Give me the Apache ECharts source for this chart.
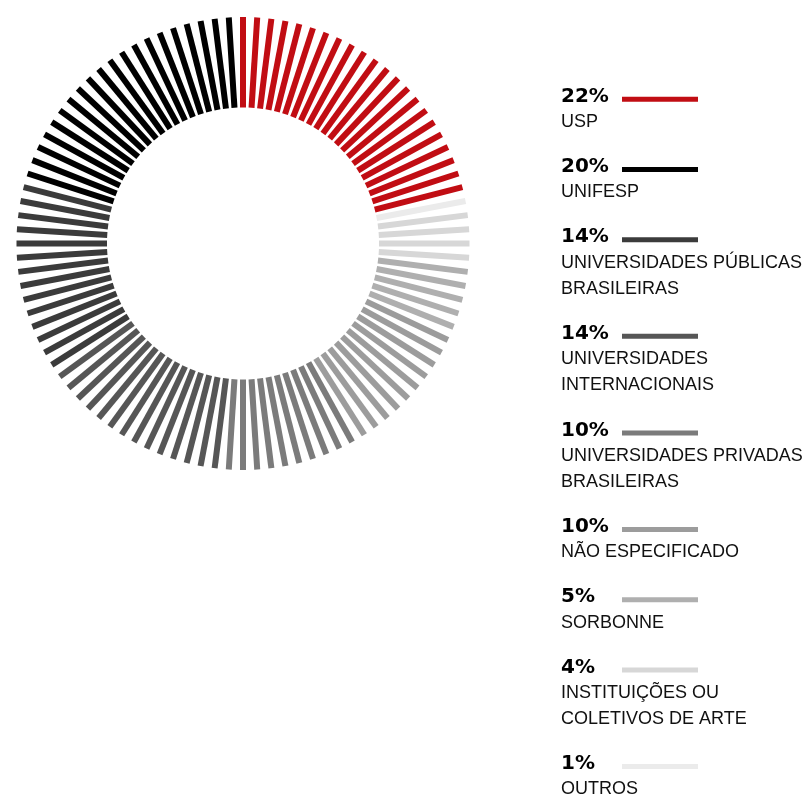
<!DOCTYPE html>
<html>
<head>
<meta charset="utf-8">
<script src="https://cdn.jsdelivr.net/npm/echarts@6/dist/echarts.min.js"></script>
<style>
html,body{margin:0;padding:0;background:#fff;}
#chart{width:810px;height:796px;}
</style>
</head>
<body>
<div id="chart"></div>
<script>
// Legend order (top to bottom)
var names = ['USP', 'UNIFESP', 'UNIVERSIDADES PÚBLICAS\nBRASILEIRAS', 'UNIVERSIDADES\nINTERNACIONAIS',
  'UNIVERSIDADES PRIVADAS\nBRASILEIRAS', 'NÃO ESPECIFICADO', 'SORBONNE', 'INSTITUIÇÕES OU\nCOLETIVOS DE ARTE', 'OUTROS'];
var percents = [22, 20, 14, 14, 10, 10, 5, 4, 1];
var colors = ['#c10d13', '#000000', '#3b3b3b', '#565656', '#7b7b7b', '#9c9c9c', '#afafaf', '#d7d7d7', '#ebebeb'];
// Clockwise order of categories around the ring, starting at 12 o'clock
var ringOrder = [0, 8, 7, 6, 5, 4, 3, 2, 1];

// one tick per percent point
var ticks = [];
var t = 0;
ringOrder.forEach(function (c) {
  for (var i = 0; i < percents[c]; i++) { ticks.push([t, c]); t++; }
});

var INNER = 136 / 226.5;

var graphics = [];
var y = 89.3;
names.forEach(function (n, k) {
  var lines = n.split('\n').length;
  graphics.push({
    type: 'text', left: 561, top: y - 2.5,
    style: { text: percents[k] + '%', font: 'bold 20px "DejaVu Sans"', fill: '#000' }
  });
  graphics.push({
    type: 'rect', shape: { x: 622, y: y + 7.5, width: 76, height: 5 },
    style: { fill: colors[k] }
  });
  graphics.push({
    type: 'text', left: 561, top: y + 20,
    style: { text: n, font: '18px "Liberation Sans"', fill: '#111', lineHeight: 26 }
  });
  y += 70.2 + 26.4 * (lines - 1);
});

var chart = echarts.init(document.getElementById('chart'), null, { renderer: 'canvas' });
chart.setOption({
  animation: false,
  backgroundColor: '#fff',
  polar: { center: [243, 243.5], radius: 226.5 },
  angleAxis: { type: 'value', min: 0, max: 100, startAngle: 90, clockwise: true, show: false },
  radiusAxis: { type: 'value', min: 0, max: 1, show: false },
  series: [{
    type: 'custom',
    coordinateSystem: 'polar',
    data: ticks,
    renderItem: function (params, api) {
      var idx = api.value(0);
      var c = api.value(1);
      var p1 = api.coord([INNER, idx]);
      var p2 = api.coord([1, idx]);
      return {
        type: 'line',
        shape: { x1: p1[0], y1: p1[1], x2: p2[0], y2: p2[1] },
        style: { stroke: colors[c], lineWidth: 6, lineCap: 'butt' }
      };
    }
  }],
  graphic: graphics
});
</script>
</body>
</html>
